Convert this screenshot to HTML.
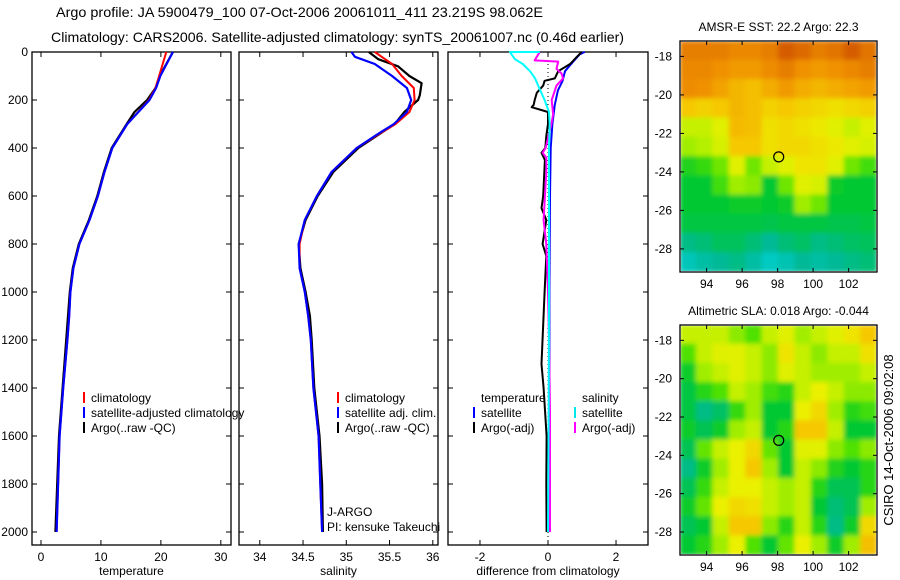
<!DOCTYPE html>
<html><head><meta charset="utf-8"><style>
html,body{margin:0;padding:0;background:#fff;}
svg{display:block;font-family:"Liberation Sans",sans-serif;}
text{font-size:12px;fill:#000;}
</style></head><body>
<svg id="chart" width="900" height="580" viewBox="0 0 900 580" xmlns="http://www.w3.org/2000/svg">
<defs>
<filter id="blur" x="-5%" y="-5%" width="110%" height="110%"><feGaussianBlur stdDeviation="2.5" edgeMode="duplicate"/></filter>
<clipPath id="clipMap1"><rect x="681" y="42" width="195" height="229"/></clipPath>
<clipPath id="clipMap2"><rect x="681" y="326" width="195" height="228"/></clipPath>
</defs>
<text x="56" y="17" style="font-size:14px" textLength="487" lengthAdjust="spacingAndGlyphs">Argo profile: JA 5900479_100 07-Oct-2006 20061011_411 23.219S 98.062E</text>
<text x="51" y="42" style="font-size:14px" textLength="573" lengthAdjust="spacingAndGlyphs">Climatology: CARS2006. Satellite-adjusted climatology: synTS_20061007.nc (0.46d earlier)</text>
<g id="plots"></g>
<text transform="translate(893,440) rotate(-90)" text-anchor="middle" style="font-size:13px">CSIRO 14-Oct-2006 09:02:08</text>
</svg>
<script>
// ---- data ----
const tDepth = [0,100,150,200,300,400,500,600,700,800,900,1000,1100,1200,1400,1600,1800,2000];
const tSat   = [22.0,19.9,19.2,18.1,14.4,11.9,10.6,9.5,8.1,6.4,5.4,4.9,4.7,4.4,3.7,3.1,2.85,2.6];
const tClim  = [20.9,19.7,19.1,18.0,14.4,11.9,10.6,9.5,8.1,6.4,5.4,4.9,4.7,4.4,3.7,3.1,2.85,2.6];
const tArgoDepth = [0,100,150,200,250,300,400,500,600,700,800,900,1000,1100,1200,1400,1600,1800,2000];
const tArgo  = [22.0,19.8,19.1,17.7,15.6,14.3,11.8,10.5,9.4,8.0,6.3,5.3,4.8,4.5,4.2,3.6,3.0,2.7,2.4];

const sDepth = [0,20,50,100,150,200,250,300,350,400,500,600,700,800,900,1000,1100,1200,1400,1600,1800,2000];
const sSat   = [35.06,35.10,35.33,35.53,35.70,35.75,35.70,35.55,35.33,35.12,34.83,34.66,34.52,34.45,34.46,34.52,34.56,34.59,34.62,34.68,34.70,34.72];
const sClimDepth = [0,50,100,150,200,250,300,350,400,500,600,700,800,900,1000,1100,1200,1400,1600,1800,2000];
const sClim  = [35.33,35.53,35.64,35.78,35.79,35.73,35.57,35.34,35.12,34.83,34.66,34.52,34.46,34.46,34.52,34.56,34.59,34.62,34.68,34.70,34.72];
const sArgoDepth = [0,30,60,100,130,180,200,250,300,350,400,500,600,700,800,900,1000,1100,1200,1400,1600,1800,2000];
const sArgo  = [35.26,35.37,35.60,35.73,35.87,35.85,35.83,35.67,35.56,35.35,35.14,34.85,34.67,34.53,34.45,34.47,34.53,34.58,34.60,34.63,34.69,34.72,34.73];

const dDepthA = [0,10,40,80,120,160,220,300,400,600,800,1000,1400,1800,2000];
const dTSat   = [1.08,0.93,0.74,0.50,0.43,0.29,0.20,0.13,0.08,0.06,0.05,0.04,0.04,0.03,0.03];
const dDepthB = [0,20,50,80,110,120,140,170,200,220,230,250,300,350,400,420,450,600,650,700,800,850,1000,1300,1400,1600,1800,2000];
const dTArgo  = [0.99,0.85,0.65,0.30,0.20,-0.10,-0.14,-0.33,-0.39,-0.42,-0.48,0.0,0.0,-0.05,-0.08,-0.19,-0.09,-0.14,-0.19,-0.05,-0.16,-0.05,-0.10,-0.19,-0.13,-0.04,-0.05,-0.04];
const dDepthC = [0,20,35,40,70,90,110,140,200,260,300,400,420,440,500,700,800,1000,1200,1500,2000];
const dSArgo  = [-0.24,-0.33,-0.39,0.30,0.25,0.40,0.44,0.25,0.11,0.15,0.10,-0.07,-0.16,-0.05,-0.05,-0.13,-0.05,0.0,0.03,0.06,0.06];
const dDepthD = [0,0,10,30,50,80,110,150,200,250,300,400,1000,1500,2000];
const dSSat   = [-0.24,-1.12,-1.07,-0.97,-0.74,-0.53,-0.38,-0.26,-0.10,0.03,0.05,0.03,0.03,0.02,0.0];

const sstGrid = [
[0.88,0.88,0.88,0.86,0.86,0.88,0.95,0.92,0.88,0.90,0.95,0.90],
[0.86,0.86,0.84,0.82,0.82,0.85,0.88,0.84,0.82,0.84,0.86,0.88],
[0.85,0.84,0.80,0.76,0.74,0.78,0.82,0.78,0.76,0.78,0.80,0.82],
[0.72,0.70,0.72,0.76,0.74,0.70,0.72,0.70,0.68,0.66,0.68,0.70],
[0.55,0.55,0.60,0.75,0.74,0.66,0.68,0.66,0.64,0.60,0.55,0.60],
[0.50,0.52,0.58,0.72,0.72,0.66,0.68,0.68,0.66,0.64,0.60,0.58],
[0.35,0.38,0.45,0.60,0.45,0.55,0.60,0.65,0.65,0.60,0.45,0.40],
[0.30,0.30,0.40,0.50,0.48,0.30,0.45,0.60,0.58,0.32,0.30,0.30],
[0.30,0.30,0.30,0.32,0.32,0.30,0.32,0.50,0.45,0.30,0.30,0.30],
[0.28,0.28,0.28,0.28,0.28,0.27,0.28,0.28,0.28,0.27,0.27,0.28],
[0.20,0.22,0.25,0.25,0.22,0.18,0.22,0.24,0.20,0.22,0.24,0.25],
[0.10,0.15,0.18,0.20,0.15,0.08,0.12,0.18,0.15,0.18,0.20,0.22]];
const slaGrid = [
[0.55,0.55,0.55,0.48,0.42,0.55,0.60,0.50,0.55,0.60,0.65,0.72],
[0.42,0.55,0.60,0.60,0.55,0.48,0.65,0.55,0.48,0.55,0.55,0.66],
[0.32,0.50,0.55,0.60,0.55,0.48,0.60,0.55,0.50,0.50,0.50,0.55],
[0.28,0.36,0.42,0.55,0.50,0.40,0.36,0.55,0.62,0.55,0.48,0.48],
[0.28,0.20,0.24,0.38,0.50,0.30,0.30,0.62,0.68,0.50,0.36,0.40],
[0.32,0.26,0.32,0.50,0.55,0.30,0.36,0.72,0.72,0.55,0.30,0.30],
[0.26,0.44,0.55,0.62,0.68,0.44,0.30,0.60,0.60,0.48,0.42,0.48],
[0.20,0.32,0.50,0.62,0.72,0.50,0.30,0.55,0.48,0.35,0.30,0.36],
[0.26,0.38,0.55,0.62,0.62,0.55,0.50,0.55,0.36,0.26,0.26,0.36],
[0.32,0.44,0.62,0.68,0.66,0.55,0.50,0.55,0.30,0.22,0.26,0.50],
[0.26,0.30,0.55,0.72,0.72,0.48,0.36,0.55,0.36,0.20,0.32,0.68],
[0.30,0.36,0.50,0.62,0.42,0.30,0.44,0.62,0.50,0.32,0.50,0.74]];

const depthTicks = [0,200,400,600,800,1000,1200,1400,1600,1800,2000];
const tempTicks = [0,10,20,30];
const salTicks = [34,34.5,35,35.5,36];
const salTickLabels = ["34","34.5","35","35.5","36"];
const diffTicks = [-2,0,2];
const lonTicks = [94,96,98,100,102];
const latTicks = [-18,-20,-22,-24,-26,-28];

// ---- drawing ----
const NS = "http://www.w3.org/2000/svg";
const root = document.getElementById('plots');
function mk(tag, attrs, parent){ const e=document.createElementNS(NS,tag); for(const k in attrs) e.setAttribute(k,attrs[k]); (parent||root).appendChild(e); return e; }
const yD = d => 52 + d*0.24;
const PB = 545;

const panels = [
 {x0:32,x1:231,vmin:-1.5,vmax:31.7,name:'temperature-panel',ticks:tempTicks,labels:tempTicks.map(String),title:'temperature'},
 {x0:239,x1:438,vmin:33.76,vmax:36.06,name:'salinity-panel',ticks:salTicks,labels:salTickLabels,title:'salinity'},
 {x0:448,x1:648,vmin:-2.94,vmax:2.94,name:'difference-panel',ticks:diffTicks,labels:diffTicks.map(String),title:'difference from climatology'}];
panels.forEach(p=>{ p.sx = v => p.x0 + (v-p.vmin)/(p.vmax-p.vmin)*(p.x1-p.x0); });

panels.forEach((p,i)=>{
  const g = mk('g',{});
  
  
  mk('rect',{x:p.x0,y:52,width:p.x1-p.x0,height:PB-52,fill:'none',stroke:'#000','stroke-width':1.3},g);
  p.ticks.forEach((t,j)=>{
    const x=p.sx(t);
    mk('line',{x1:x,x2:x,y1:52,y2:57,stroke:'#000'},g);
    mk('line',{x1:x,x2:x,y1:PB,y2:PB-5,stroke:'#000'},g);
    const tx=mk('text',{x:x,y:PB+16,'text-anchor':'middle'},g);
    tx.textContent=p.labels[j];
  });
  depthTicks.forEach(d=>{
    const y=yD(d);
    mk('line',{x1:p.x0,x2:p.x0+5,y1:y,y2:y,stroke:'#000'},g);
    mk('line',{x1:p.x1,x2:p.x1-5,y1:y,y2:y,stroke:'#000'},g);
    if(i===0){ const tx=mk('text',{x:28,y:y+4,'text-anchor':'end'},g); tx.textContent=String(d); }
  });
  const tt=mk('text',{x:(p.x0+p.x1)/2,y:575,'text-anchor':'middle'},g);
  
  
  tt.textContent=p.title;
});

function line(p, vals, depths, color, name, w){
  const pts = vals.map((v,k)=>p.sx(v).toFixed(1)+','+yD(depths[k]).toFixed(1)).join(' ');
  const e = mk('polyline',{points:pts,fill:'none',stroke:color,'stroke-width':w||2,'stroke-linejoin':'round'});
  
  
}
mk('line',{x1:panels[2].sx(0),x2:panels[2].sx(0),y1:52,y2:PB,stroke:'#000','stroke-dasharray':'1,3'});

line(panels[0], tArgo, tArgoDepth, '#000', 'temp-argo-line', 2.2);
line(panels[0], tClim, tDepth, '#f00', 'temp-climatology-line');
line(panels[0], tSat, tDepth, '#0000ff', 'temp-satellite-line', 2.2);
line(panels[1], sArgo, sArgoDepth, '#000', 'sal-argo-line', 2.2);
line(panels[1], sClim, sClimDepth, '#f00', 'sal-climatology-line');
line(panels[1], sSat, sDepth, '#0000ff', 'sal-satellite-line', 2.2);
line(panels[2], dTSat, dDepthA, '#0000ff', 'diff-temp-satellite-line');
line(panels[2], dTArgo, dDepthB, '#000', 'diff-temp-argo-line');
line(panels[2], dSArgo, dDepthC, '#ff00ff', 'diff-sal-argo-line');
line(panels[2], dSSat, dDepthD, '#00ffff', 'diff-sal-satellite-line');

function legend(x, y, color, label, name){
  const g=mk('g',{});
  
  
  mk('line',{x1:x,x2:x,y1:y-10,y2:y+1,stroke:color,'stroke-width':2},g);
  const t=mk('text',{x:x+7,y:y},g); t.textContent=label;
}
legend(84,402,'#f00','climatology','legend-temp-climatology');
legend(84,417,'#00f','satellite-adjusted climatology','legend-temp-satellite');
legend(84,432,'#000','Argo(..raw -QC)','legend-temp-argo');
legend(338,402,'#f00','climatology','legend-sal-climatology');
legend(338,417,'#00f','satellite adj. clim.','legend-sal-satellite');
legend(338,432,'#000','Argo(..raw -QC)','legend-sal-argo');
{const t=mk('text',{x:481,y:402}); t.textContent='temperature';  }
{const t=mk('text',{x:582,y:402}); t.textContent='salinity';  }
legend(474,417,'#00f','satellite','legend-diff-temp-satellite');
legend(474,432,'#000','Argo(-adj)','legend-diff-temp-argo');
legend(575,417,'#00e8e8','satellite','legend-diff-sal-satellite');
legend(575,432,'#f0f','Argo(-adj)','legend-diff-sal-argo');
{const t=mk('text',{x:327,y:516}); t.textContent='J-ARGO';  }
{const t=mk('text',{x:327,y:531}); t.textContent='PI: kensuke Takeuchi';  }

const cmStops=[[0,[0,215,230]],[0.18,[0,185,150]],[0.3,[0,200,50]],[0.42,[80,225,0]],[0.52,[180,240,0]],[0.62,[235,240,0]],[0.72,[245,200,0]],[0.84,[240,145,0]],[1,[200,70,0]]];
function cmap(v){
  for(let i=1;i<cmStops.length;i++){ if(v<=cmStops[i][0]){const a=cmStops[i-1],b=cmStops[i];const f=(v-a[0])/(b[0]-a[0]);return 'rgb('+a[1].map((c,k)=>Math.round(c+(b[1][k]-c)*f)).join(',')+')';} }
  return 'rgb(200,70,0)';
}
function drawMap(m){
  const g=mk('g',{});
  
  
  const sx=lon=>m.x0+(lon-92.5)/(103.6-92.5)*(m.x1-m.x0);
  const sy=lat=>m.y0+(-17.2-lat)/(29.2-17.2)*(m.y1-m.y0);
  const cg=mk('g',{'clip-path':'url(#'+m.clip+')'},g);
  const fg=mk('g',{filter:'url(#blur)'},cg);
  const rows=m.grid.length, cols=m.grid[0].length;
  const cw=(m.x1-m.x0)/cols, ch=(m.y1-m.y0)/rows;
  m.grid.forEach((row,r)=>row.forEach((v,c)=>{
    const cell=mk('rect',{x:m.x0+c*cw-0.5,y:m.y0+r*ch-0.5,width:cw+1,height:ch+1,fill:cmap(v)},fg);
    
    
  }));
  mk('rect',{x:m.x0,y:m.y0,width:m.x1-m.x0,height:m.y1-m.y0,fill:'none',stroke:'#000','stroke-width':1.3},g);
  lonTicks.forEach(l=>{const x=sx(l);
    mk('line',{x1:x,x2:x,y1:m.y0,y2:m.y0+4,stroke:'#000'},g);
    mk('line',{x1:x,x2:x,y1:m.y1,y2:m.y1-4,stroke:'#000'},g);
    const t=mk('text',{x:x,y:m.y1+16,'text-anchor':'middle'},g); t.textContent=String(l);});
  latTicks.forEach(l=>{const y=sy(l);
    mk('line',{x1:m.x0,x2:m.x0+4,y1:y,y2:y,stroke:'#000'},g);
    mk('line',{x1:m.x1,x2:m.x1-4,y1:y,y2:y,stroke:'#000'},g);
    const t=mk('text',{x:m.x0-8,y:y+4,'text-anchor':'end'},g); t.textContent=String(l);});
  const c=mk('circle',{cx:sx(98.062),cy:sy(-23.219),r:5,fill:'none',stroke:'#000','stroke-width':1.2},g);
  
  
  const t=mk('text',{x:(m.x0+m.x1)/2,y:m.y0-10,'text-anchor':'middle'},g);
  
  
  t.textContent=m.title;
}
drawMap({name:'sst-map',x0:680,x1:877,y0:41,y1:272,grid:sstGrid,clip:'clipMap1',title:'AMSR-E SST: 22.2 Argo: 22.3'});
drawMap({name:'sla-map',x0:680,x1:877,y0:325,y1:555,grid:slaGrid,clip:'clipMap2',title:'Altimetric SLA: 0.018 Argo: -0.044'});
</script>
</body></html>
